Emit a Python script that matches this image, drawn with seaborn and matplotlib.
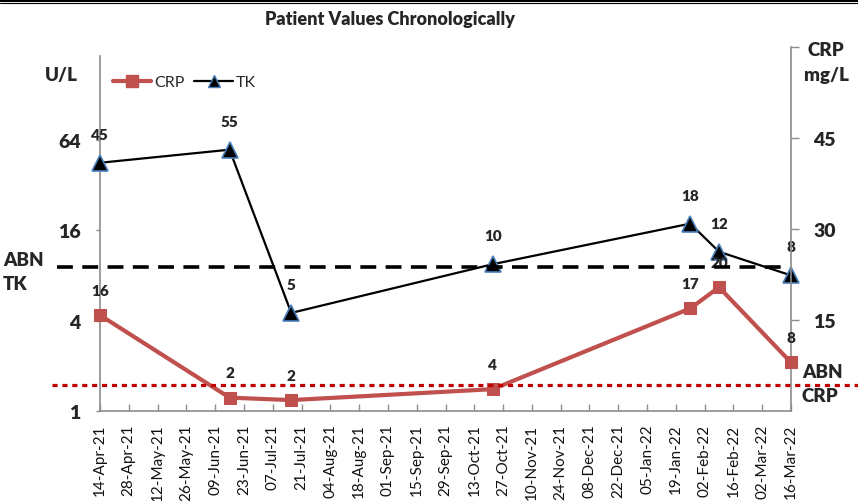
import numpy as np
import pandas as pd
import matplotlib
matplotlib.use("Agg")
import matplotlib.pyplot as plt
import matplotlib.dates as mdates
import matplotlib.transforms as mtrans
from matplotlib.lines import Line2D
from matplotlib.ticker import NullLocator, FixedLocator, FixedFormatter
import seaborn as sns

# ---------------- data ----------------
dates = ["2021-04-14", "2021-06-16", "2021-07-16", "2021-10-22",
         "2022-01-26", "2022-02-09", "2022-03-16"]
tk_values = [45, 55, 4.5, 9.5, 17.7, 11.5, 8]
crp_values = [15.8, 2.2, 1.8, 3.6, 16.9, 20.4, 8.0]
tk_labels = ["45", "55", "5", "10", "18", "12", "8"]
crp_labels = ["16", "2", "2", "4", "17", "20", "8"]
abn_tk = 9.1
abn_crp = 4.3
x_start, x_end = "2021-04-14", "2022-03-16"
left_ticks = [1, 4, 16, 64]
right_ticks = [15, 30, 45, 60]
right_tick_labels = ["15", "30", "45", ""]
title = "Patient Values Chronologically"

# ---------------- style ----------------
sns.set_theme(style="white")
plt.rcParams["font.family"] = ["Lato", "DejaVu Sans"]

W, H = 858, 502
fig = plt.figure(figsize=(W / 100, H / 100), dpi=100)
ax = fig.add_axes([100 / W, 90 / H, 691 / W, 364 / H])

df = pd.DataFrame({"date": pd.to_datetime(dates), "TK": tk_values, "CRP": crp_values})

tk_color = "black"
tk_edge = "#4A7EBB"
crp_color = "#C0504D"
spine_col = "#8C8C8C"
BOLD = "heavy"

sns.lineplot(data=df, x="date", y="TK", ax=ax, color=tk_color, linewidth=1.6,
             marker="^", markersize=11, markerfacecolor="black",
             markeredgecolor=tk_edge, markeredgewidth=1.2, clip_on=False, zorder=3)
ax.set_yscale("log", base=2)
ax.set_ylim(1, 2 ** (364 / 45.2))
ax.yaxis.set_major_locator(FixedLocator(left_ticks))
ax.yaxis.set_major_formatter(FixedFormatter([str(t) for t in left_ticks]))
ax.yaxis.set_minor_locator(NullLocator())

xt = pd.date_range(x_start, x_end, freq="14D")
ax.set_xlim(pd.Timestamp(x_start), pd.Timestamp(x_end))
ax.set_xticks(xt)
ax.xaxis.set_major_formatter(mdates.DateFormatter("%d-%b-%y"))
ax.set_xlabel("")
ax.set_ylabel("")

ax2 = ax.twinx()
sns.lineplot(data=df, x="date", y="CRP", ax=ax2, color=crp_color, linewidth=3,
             marker="s", markersize=9, markerfacecolor=crp_color,
             markeredgecolor=crp_color, clip_on=False, zorder=3)
ax2.set_ylim(0, 60)
ax2.set_yticks(right_ticks)
ax2.set_yticklabels(right_tick_labels)
ax2.set_ylabel("")
ax2.set_xlabel("")

for a in (ax, ax2):
    for s in a.spines.values():
        s.set_color(spine_col)
        s.set_linewidth(1.2)
    a.spines["top"].set_visible(False)
ax.spines["right"].set_visible(False)
ax2.spines["left"].set_visible(False)
ax2.spines["bottom"].set_visible(False)
ax.spines["left"].set_bounds(1, 2 ** ((412 - 57) / 45.2))

ax.tick_params(axis="x", direction="in", length=5, width=1, color=spine_col,
               labelrotation=90, labelsize=11, pad=9, bottom=True, labelcolor="#111111")
ax.tick_params(axis="y", direction="out", length=3, width=1, color=spine_col,
               labelsize=14, pad=11, left=True)
ax2.tick_params(axis="y", direction="out", length=6, width=1, color=spine_col,
                labelsize=14, pad=10, right=True)
for lab in ax.get_yticklabels() + ax2.get_yticklabels():
    lab.set_fontweight(BOLD)

# data labels
for d, v, t in zip(df["date"], tk_values, tk_labels):
    ax.annotate(t, (d, v), xytext=(0, 20.5), textcoords="offset points",
                ha="center", va="center", fontsize=11, fontweight=BOLD,
                annotation_clip=False, zorder=5)
for d, v, t in zip(df["date"], crp_values, crp_labels):
    ax2.annotate(t, (d, v), xytext=(0, 18), textcoords="offset points",
                 ha="center", va="center", fontsize=11, fontweight=BOLD,
                 annotation_clip=False, zorder=5)

# abnormal threshold lines (extend beyond the plot area)
tr_tk = mtrans.blended_transform_factory(fig.transFigure, ax.transData)
tr_crp = mtrans.blended_transform_factory(fig.transFigure, ax2.transData)
fig.add_artist(Line2D([57 / W, 782 / W], [abn_tk, abn_tk], transform=tr_tk,
                      color="black", linewidth=2.6, dashes=(4.4, 2.6), zorder=4))
fig.add_artist(Line2D([52 / W, 1.0], [abn_crp, abn_crp], transform=tr_crp,
                      color="#C00000", linewidth=2.3, dashes=(1.6, 1.5), zorder=4))

# legend
handles = [
    Line2D([], [], color=crp_color, linewidth=3, marker="s", markersize=9,
           markerfacecolor=crp_color, markeredgecolor=crp_color),
    Line2D([], [], color=tk_color, linewidth=1.6, marker="^", markersize=8,
           markerfacecolor="black", markeredgecolor=tk_edge),
]
fig.legend(handles, ["CRP", "TK"], loc="center left",
           bbox_to_anchor=(113 / W, 1 - 83 / H), ncol=2, frameon=False,
           fontsize=11.5, handlelength=2.4, handletextpad=0.2,
           columnspacing=0.6, borderpad=0, borderaxespad=0)

# texts
def ftext(x, y, s, ha="center", **kw):
    fig.text(x / W, 1 - y / H, s, ha=ha, va="center", fontweight=BOLD, **kw)

ftext(390, 20, title, fontsize=13)
ftext(61, 75, "U/L", fontsize=13.5)
ftext(826, 51, "CRP", fontsize=13.5)
ftext(826, 75, "mg/L", fontsize=13.5)
ftext(3, 260, "ABN", ha="left", fontsize=13.5)
ftext(3, 284, "TK", ha="left", fontsize=13.5)
ftext(802, 372, "ABN", ha="left", fontsize=13.5)
ftext(802, 397, "CRP", ha="left", fontsize=13.5)

# top border lines
fig.add_artist(Line2D([0, 1], [1 - 1.2 / H, 1 - 1.2 / H], transform=fig.transFigure,
                      color="black", linewidth=2.2))
fig.add_artist(Line2D([0, 1], [1 - 4.2 / H, 1 - 4.2 / H], transform=fig.transFigure,
                      color="black", linewidth=0.8))

fig.savefig("out.png", dpi=100)
